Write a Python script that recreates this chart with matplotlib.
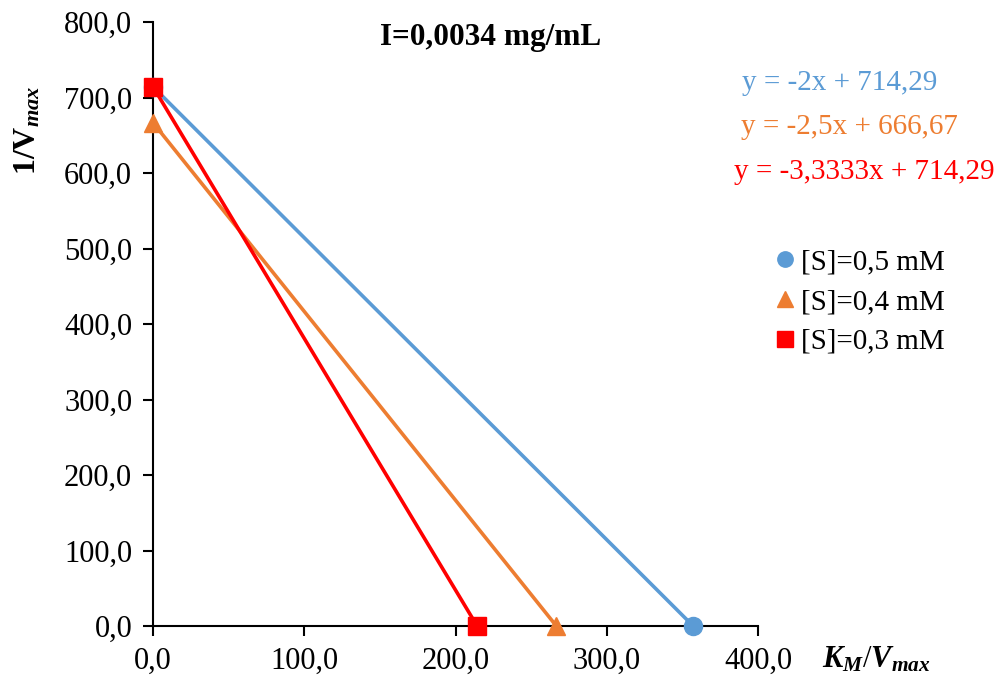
import matplotlib.pyplot as plt
from matplotlib.ticker import FuncFormatter, MultipleLocator

plt.rcParams['font.family'] = ['Liberation Serif', 'DejaVu Serif']
plt.rcParams['mathtext.fontset'] = 'custom'
plt.rcParams['mathtext.rm'] = 'Liberation Serif'
plt.rcParams['mathtext.it'] = 'Liberation Serif:italic:bold'
plt.rcParams['mathtext.bf'] = 'Liberation Serif:bold'

# data: x = KM/Vmax, y = 1/Vmax
labels = ['[S]=0,5 mM', '[S]=0,4 mM', '[S]=0,3 mM']
x_vals = [[0.0, 357.14], [0.0, 266.67], [0.0, 214.29]]
y_vals = [[714.29, 0.0], [666.67, 0.0], [714.29, 0.0]]
equations = ['y = -2x + 714,29', 'y = -2,5x + 666,67', 'y = -3,3333x + 714,29']
colors = ['#5B9BD5', '#ED7D31', '#FF0000']
markers = ['o', '^', 's']

fig = plt.figure(figsize=(10.02, 6.82), dpi=100)
ax = fig.add_axes([0.1527, 0.0821, 0.6038, 0.8856])

for xs, ys, c, m, lab in zip(x_vals, y_vals, colors, markers, labels):
    ax.plot(xs, ys, color=c, linewidth=2.6, zorder=2)
    ax.plot(xs, ys, linestyle='none', marker=m, color=c, markersize=13,
            label=lab, zorder=3, clip_on=False)

ax.set_xlim(0, 400)
ax.set_ylim(0, 800)
ax.xaxis.set_major_locator(MultipleLocator(100))
ax.yaxis.set_major_locator(MultipleLocator(100))
fmt = FuncFormatter(lambda v, p: f'{v:.1f}'.replace('.', ','))
ax.xaxis.set_major_formatter(fmt)
ax.yaxis.set_major_formatter(fmt)
ax.tick_params(labelsize=22, direction='out', length=7, width=1.5, pad=8)
ax.spines['top'].set_visible(False)
ax.spines['right'].set_visible(False)
ax.spines['left'].set_linewidth(1.5)
ax.spines['bottom'].set_linewidth(1.5)

fig.text(0.49, 1 - 37 / 682, 'I=0,0034 mg/mL', fontsize=22.5, fontweight='bold',
         ha='center', va='center')
fig.text(0.028, 1 - 130 / 682, r'$\mathbf{1/V}_{\mathit{max}}$', fontsize=23,
         rotation=90, ha='center', va='center')
fig.text(0.82, 1 - 660 / 682, r'$\mathit{K_M/V_{max}}$', fontsize=22,
         ha='left', va='center')

eq_pos = [(0.741, 1 - 83 / 682), (0.740, 1 - 127 / 682), (0.733, 1 - 172 / 682)]
for eq, c, (px, py) in zip(equations, colors, eq_pos):
    fig.text(px, py, eq, color=c, fontsize=21, ha='left', va='center')

ax.legend(loc='center left', bbox_to_anchor=(0.741, 1 - 302 / 682),
          bbox_transform=fig.transFigure, frameon=False, fontsize=21,
          handletextpad=0.0, handlelength=1.1, labelspacing=0.45,
          markerscale=0.85)

fig.savefig('out.png', dpi=100)
